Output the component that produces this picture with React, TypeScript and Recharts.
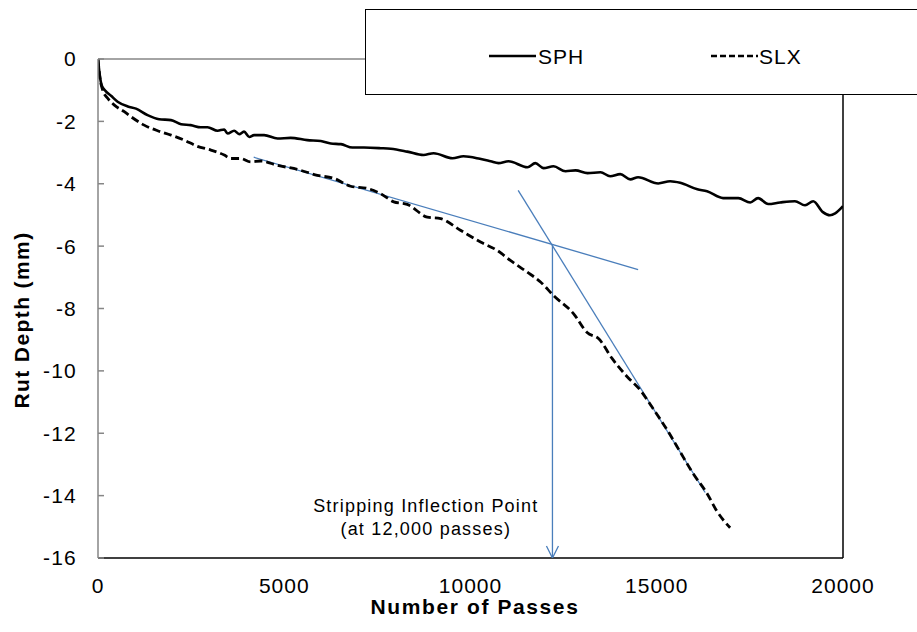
import React from 'react';
import { LineChart, Line, XAxis, YAxis, ReferenceLine, ReferenceDot } from 'recharts';

// Number of passes / rut depth (mm) for each mix
const sphPasses = [0, 40, 100, 200, 350, 527, 800, 1020, 1330, 1640, 1960, 2230, 2490, 2760, 2940, 3210, 3390, 3480, 3655, 3790, 3920, 4060, 4190, 4460, 4820, 5170, 5620, 5980, 6250, 6520, 6830, 7140, 7590, 7860, 8300, 8740, 9010, 9520, 9810, 10250, 10540, 10750, 11020, 11530, 11740, 11960, 12230, 12550, 12820, 13140, 13490, 13750, 14020, 14290, 14500, 15040, 15360, 15630, 16090, 16350, 16780, 17190, 17510, 17720, 17990, 18310, 18710, 18980, 19200, 19460, 19650, 19790, 20000];
const sphDepth = [0, -0.45, -0.85, -1.02, -1.18, -1.37, -1.52, -1.59, -1.8, -1.93, -1.96, -2.09, -2.12, -2.19, -2.19, -2.3, -2.26, -2.39, -2.3, -2.41, -2.33, -2.5, -2.44, -2.44, -2.55, -2.53, -2.6, -2.63, -2.71, -2.73, -2.84, -2.84, -2.86, -2.88, -2.97, -3.08, -3.02, -3.18, -3.12, -3.2, -3.28, -3.34, -3.28, -3.47, -3.34, -3.5, -3.44, -3.6, -3.57, -3.66, -3.63, -3.76, -3.69, -3.86, -3.79, -3.99, -3.92, -3.97, -4.18, -4.24, -4.46, -4.46, -4.6, -4.46, -4.65, -4.6, -4.56, -4.69, -4.56, -4.91, -5.01, -4.95, -4.72];

const slxPasses = [0, 40, 126, 260, 440, 706, 885, 1240, 1600, 1960, 2310, 2670, 3030, 3390, 3570, 3830, 4100, 4370, 4820, 5350, 5890, 6340, 6780, 7230, 7590, 7940, 8300, 8840, 9200, 9730, 10270, 10720, 11070, 11520, 11880, 12240, 12770, 13130, 13450, 13800, 14200, 14560, 14850, 15360, 15630, 15980, 16350, 16610, 16970];
const slxDepth = [0, -0.5, -1.0, -1.26, -1.48, -1.69, -1.85, -2.12, -2.3, -2.44, -2.6, -2.8, -2.92, -3.08, -3.19, -3.19, -3.3, -3.27, -3.41, -3.54, -3.73, -3.83, -4.08, -4.15, -4.32, -4.58, -4.66, -5.07, -5.12, -5.49, -5.87, -6.14, -6.46, -6.83, -7.15, -7.6, -8.17, -8.77, -8.98, -9.6, -10.18, -10.62, -11.12, -12.05, -12.6, -13.3, -13.93, -14.49, -15.03];

// Tangent construction lines and inflection arrow
const tangent1Passes = [4180, 14500];
const tangent1Depth = [-3.15, -6.75];
const tangent2Passes = [11280, 16300];
const tangent2Depth = [-4.21, -13.9];
const arrowPasses = [12200, 12200];
const arrowDepth = [-5.93, -16];

const xTicks = [0, 5000, 10000, 15000, 20000];
const yTicks = [-16, -14, -12, -10, -8, -6, -4, -2, 0];

const seriesNames = ['SPH', 'SLX'];
const annotationLines = ['Stripping Inflection Point', '(at 12,000 passes)'];
const annotationAt = { x: 8800, y: -14.65 };

const toPoints = (xs: number[], ys: number[]) => xs.map((x, i) => ({ x, y: ys[i] }));

const sphData = toPoints(sphPasses, sphDepth);
const slxData = toPoints(slxPasses, slxDepth);
const t1Data = toPoints(tangent1Passes, tangent1Depth);
const t2Data = toPoints(tangent2Passes, tangent2Depth);
const arrowData = toPoints(arrowPasses, arrowDepth);

const FONT = 'Arial, "Liberation Sans", sans-serif';
const BLUE = '#4a7ebb';

const ArrowHead = (props: any) => {
  const { cx, cy, index } = props;
  if (index !== arrowData.length - 1) return <g key={`a${index}`} />;
  return (
    <path
      key={`a${index}`}
      d={`M${cx - 6},${cy - 12} L${cx},${cy} L${cx + 6},${cy - 12}`}
      fill="none"
      stroke={BLUE}
      strokeWidth={1.3}
    />
  );
};

const LegendBox = () => (
  <div
    style={{
      position: 'absolute',
      left: 365,
      top: 9,
      width: 560,
      height: 86,
      border: '1.3px solid #000',
      background: '#fff',
      boxSizing: 'border-box',
    }}
  >
    <svg width={560} height={86} style={{ position: 'absolute', left: 0, top: 0 }}>
      <line x1={123} y1={46} x2={170} y2={46} stroke="#000" strokeWidth={2.5} />
      <text x={172} y={53.5} fontFamily={FONT} fontSize={21} letterSpacing={1} fill="#000">{seriesNames[0]}</text>
      <line x1={345} y1={46} x2={392} y2={46} stroke="#000" strokeWidth={2.5} strokeDasharray="6 3" />
      <text x={393} y={53.5} fontFamily={FONT} fontSize={21} letterSpacing={1} fill="#000">{seriesNames[1]}</text>
    </svg>
  </div>
);

export default function App() {
  return (
    <div style={{ position: 'absolute', left: 0, top: 0, width: 917, height: 632, background: '#fff', overflow: 'hidden' }}>
      <LineChart width={917} height={632} margin={{ top: 59, right: 74, bottom: 30, left: 0 }}>
        <XAxis
          type="number"
          dataKey="x"
          domain={[0, 20000]}
          ticks={xTicks}
          allowDataOverflow
          tickLine={false}
          axisLine={{ stroke: '#000', strokeWidth: 1.5 }}
          height={44}
          tickMargin={14}
          tick={{ fill: '#000', fontSize: 21, fontFamily: FONT, letterSpacing: 1 }}
          label={{
            content: () => (
              <text x={475} y={614} textAnchor="middle" fontFamily={FONT} fontSize={21} fontWeight="bold" letterSpacing={1.6} fill="#000">
                Number of Passes
              </text>
            ),
          }}
        />
        <YAxis
          type="number"
          domain={[-16, 0]}
          ticks={yTicks}
          allowDataOverflow
          width={98}
          tickSize={-6}
          tickMargin={27}
          tickLine={{ stroke: '#868686', strokeWidth: 1.5 }}
          axisLine={{ stroke: '#868686', strokeWidth: 1.5 }}
          tick={{ fill: '#000', fontSize: 21, fontFamily: FONT, letterSpacing: 1.2 }}
          label={{
            content: () => (
              <text
                x={21}
                y={320}
                transform="rotate(-90 21 320)"
                textAnchor="middle"
                dominantBaseline="central"
                fontFamily={FONT}
                fontSize={21}
                fontWeight="bold"
                letterSpacing={1.4}
                fill="#000"
              >
                Rut Depth (mm)
              </text>
            ),
          }}
        />
        <ReferenceLine y={0} stroke="#868686" strokeWidth={1.5} />
        <ReferenceLine x={20000} stroke="#000" strokeWidth={1.5} />
        <Line data={t1Data} dataKey="y" stroke={BLUE} strokeWidth={1.3} dot={false} isAnimationActive={false} />
        <Line data={t2Data} dataKey="y" stroke={BLUE} strokeWidth={1.3} dot={false} isAnimationActive={false} />
        <Line data={arrowData} dataKey="y" stroke={BLUE} strokeWidth={1.3} dot={ArrowHead} isAnimationActive={false} />
        <Line data={sphData} dataKey="y" name={seriesNames[0]} stroke="#000" strokeWidth={2.6} dot={false} type="monotone" isAnimationActive={false} />
        <Line data={slxData} dataKey="y" name={seriesNames[1]} stroke="#000" strokeWidth={2.8} strokeDasharray="8 4" dot={false} type="monotone" isAnimationActive={false} />
        <ReferenceDot
          x={annotationAt.x}
          y={annotationAt.y}
          r={0}
          shape={(p: any) => (
            <text x={p.cx} y={p.cy} textAnchor="middle" fontFamily={FONT} fontSize={18} letterSpacing={1.2} fill="#000">
              <tspan x={p.cx} dy={-4}>{annotationLines[0]}</tspan>
              <tspan x={p.cx} dy={23}>{annotationLines[1]}</tspan>
            </text>
          )}
        />
      </LineChart>
      <LegendBox />
    </div>
  );
}
